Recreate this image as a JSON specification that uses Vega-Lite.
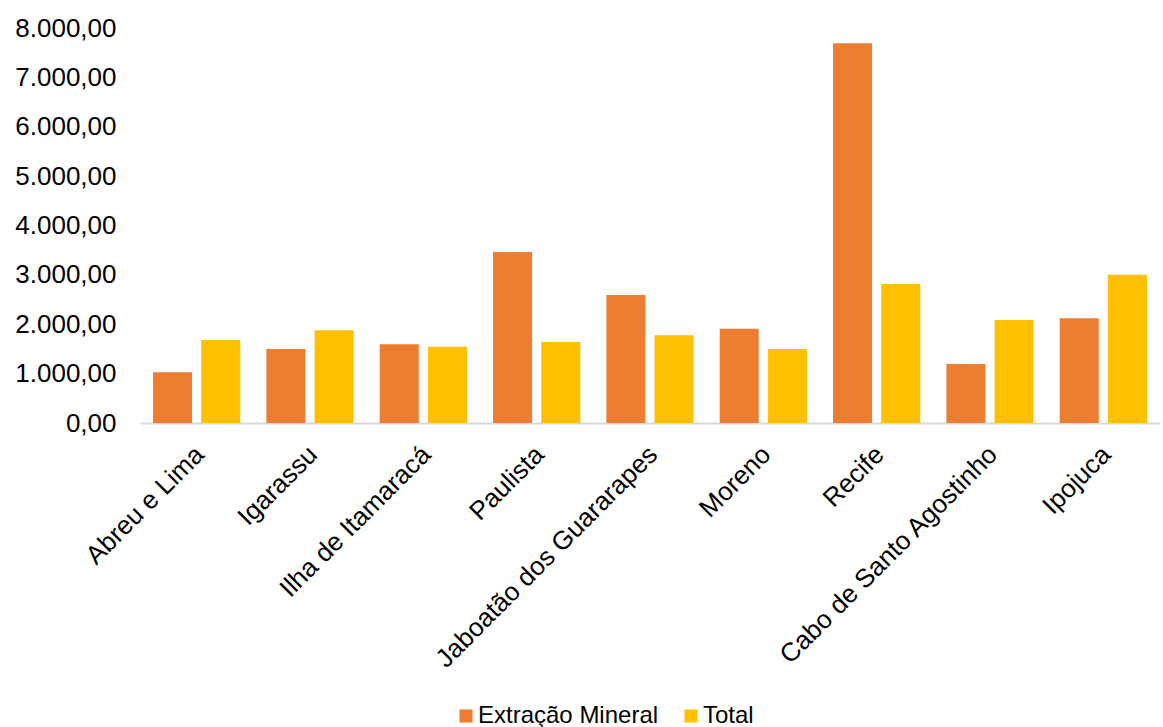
{
  "$schema": "https://vega.github.io/schema/vega-lite/v6.json",
  "autosize": "none",
  "width": 1020,
  "height": 395,
  "padding": {"left": 140, "top": 28, "right": 3, "bottom": 304},
  "background": "white",
  "config": {
    "locale": {"number": {"decimal": ",", "thousands": ".", "grouping": [3], "currency": ["R$", ""]}},
    "font": "Liberation Sans",
    "view": {"stroke": null}
  },
  "data": {
    "values": [
      {"municipio": "Abreu e Lima", "serie": "Extração Mineral", "valor": 1030},
      {"municipio": "Abreu e Lima", "serie": "Total", "valor": 1680},
      {"municipio": "Igarassu", "serie": "Extração Mineral", "valor": 1500},
      {"municipio": "Igarassu", "serie": "Total", "valor": 1880},
      {"municipio": "Ilha de Itamaracá", "serie": "Extração Mineral", "valor": 1595},
      {"municipio": "Ilha de Itamaracá", "serie": "Total", "valor": 1545},
      {"municipio": "Paulista", "serie": "Extração Mineral", "valor": 3462},
      {"municipio": "Paulista", "serie": "Total", "valor": 1640},
      {"municipio": "Jaboatão dos Guararapes", "serie": "Extração Mineral", "valor": 2591},
      {"municipio": "Jaboatão dos Guararapes", "serie": "Total", "valor": 1775},
      {"municipio": "Moreno", "serie": "Extração Mineral", "valor": 1909},
      {"municipio": "Moreno", "serie": "Total", "valor": 1498},
      {"municipio": "Recife", "serie": "Extração Mineral", "valor": 7692},
      {"municipio": "Recife", "serie": "Total", "valor": 2814},
      {"municipio": "Cabo de Santo Agostinho", "serie": "Extração Mineral", "valor": 1194},
      {"municipio": "Cabo de Santo Agostinho", "serie": "Total", "valor": 2085},
      {"municipio": "Ipojuca", "serie": "Extração Mineral", "valor": 2119},
      {"municipio": "Ipojuca", "serie": "Total", "valor": 3002}
    ]
  },
  "mark": {"type": "bar"},
  "encoding": {
    "x": {
      "field": "municipio",
      "type": "nominal",
      "sort": null,
      "scale": {"paddingInner": 0.23, "paddingOuter": 0.115},
      "axis": {
        "title": null,
        "labelAngle": -45,
        "labelFontSize": 26,
        "labelColor": "#000000",
        "labelPadding": 18,
        "labelOffset": -6,
        "ticks": false,
        "domainColor": "#d9d9d9",
        "domainWidth": 2,
        "labelLimit": 500
      }
    },
    "xOffset": {
      "field": "serie",
      "type": "nominal",
      "scale": {"paddingInner": 0.19, "paddingOuter": 0}
    },
    "y": {
      "field": "valor",
      "type": "quantitative",
      "scale": {"domain": [0, 8000], "nice": false},
      "axis": {
        "title": null,
        "format": ",.2f",
        "values": [0, 1000, 2000, 3000, 4000, 5000, 6000, 7000, 8000],
        "labelFontSize": 26,
        "labelColor": "#000000",
        "labelPadding": 24,
        "ticks": false,
        "domain": false,
        "grid": false
      }
    },
    "color": {
      "field": "serie",
      "type": "nominal",
      "scale": {"domain": ["Extração Mineral", "Total"], "range": ["#ED7D31", "#FFC000"]},
      "legend": {
        "title": null,
        "orient": "none",
        "direction": "horizontal",
        "legendX": 314,
        "legendY": 676,
        "symbolType": "square",
        "symbolSize": 170,
        "symbolStrokeWidth": 0,
        "labelFontSize": 24,
        "labelLimit": 400,
        "labelColor": "#000000",
        "columnPadding": 20,
        "labelOffset": 0
      }
    }
  }
}
